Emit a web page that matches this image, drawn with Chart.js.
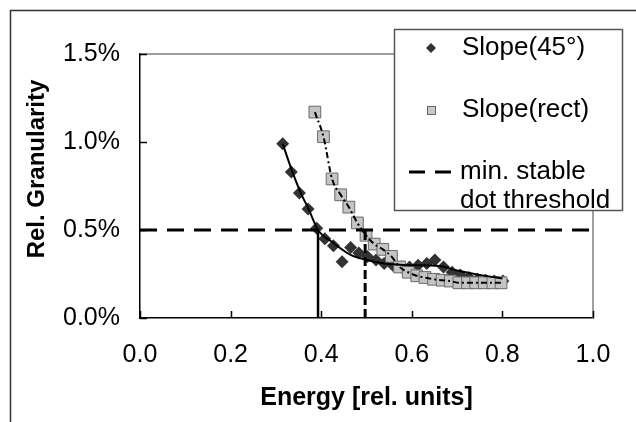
<!DOCTYPE html>
<html><head><meta charset="utf-8">
<script src="https://cdn.jsdelivr.net/npm/chart.js@4.4.1/dist/chart.umd.min.js"></script>
<style>html,body{margin:0;padding:0;background:#fff;}canvas{display:block;}</style>
</head><body>
<canvas id="c" width="636" height="422"></canvas>
<script>
// ---- data ----
const diamondX = [0.315,0.334,0.352,0.371,0.390,0.408,0.427,0.446,0.465,0.483,0.502,0.521,0.539,0.558,0.577,0.595,0.614,0.633,0.651,0.670,0.689,0.707,0.726,0.745,0.763,0.782,0.801];
const diamondY = [0.99,0.83,0.71,0.62,0.51,0.45,0.41,0.32,0.40,0.37,0.35,0.33,0.31,0.30,0.29,0.29,0.30,0.31,0.33,0.29,0.26,0.245,0.23,0.22,0.215,0.21,0.21];
const rectX = [0.386,0.405,0.424,0.443,0.461,0.480,0.499,0.517,0.536,0.555,0.573,0.592,0.611,0.629,0.648,0.667,0.685,0.704,0.723,0.741,0.760,0.779,0.797];
const rectY = [1.17,1.03,0.79,0.70,0.63,0.54,0.47,0.42,0.39,0.35,0.29,0.26,0.24,0.23,0.22,0.215,0.21,0.20,0.20,0.20,0.20,0.20,0.20];
const trendX = [0.315,0.335,0.355,0.372,0.393,0.425,0.464,0.500,0.540,0.600,0.660,0.700,0.750,0.800];
const trendY = [0.99,0.84,0.71,0.62,0.50,0.43,0.36,0.33,0.31,0.30,0.295,0.27,0.245,0.225];
const thresholdX = [0.0, 1.0];
const thresholdY = [0.5, 0.5];
const cutSolidX = [0.393, 0.393];
const cutDashX = [0.497, 0.497];
const cutY = [0.0, 0.5];
const xTickValues = [0.0,0.2,0.4,0.6,0.8,1.0];
const yTickValues = [0.0,0.5,1.0,1.5];
const labels = {
  series1: 'Slope(45°)', series2: 'Slope(rect)',
  threshold: ['min. stable', 'dot threshold'],
  xTitle: 'Energy [rel. units]', yTitle: 'Rel. Granularity'
};

const pts = (xs, ys) => xs.map((x, i) => ({x, y: ys[i]}));
const FONT = 'Liberation Sans, Arial, sans-serif';

const framePlugin = {
  id: 'frame',
  beforeDraw(chart) {
    const c = chart.ctx;
    c.save();
    c.fillStyle = '#fff';
    c.fillRect(0, 0, chart.width, chart.height);
    c.strokeStyle = '#333';
    c.lineWidth = 1.5;
    c.strokeRect(10.5, 10.5, chart.width + 20, chart.height + 20);
    c.restore();
  },
  beforeDatasetsDraw(chart) {
    const a = chart.chartArea, c = chart.ctx;
    c.save();
    c.strokeStyle = '#808080';
    c.lineWidth = 1.5;
    c.beginPath();
    c.moveTo(a.left, a.top); c.lineTo(a.right, a.top); c.lineTo(a.right, a.bottom);
    c.stroke();
    // inside tick marks
    c.strokeStyle = '#000';
    c.lineWidth = 1.5;
    const xs = chart.scales.x, ys = chart.scales.y;
    c.beginPath();
    xs.ticks.forEach(t => { const p = Math.round(xs.getPixelForValue(t.value)) + 0.5; c.moveTo(p, a.bottom); c.lineTo(p, a.bottom - 7); });
    ys.ticks.forEach(t => { const p = Math.round(ys.getPixelForValue(t.value)) + 0.5; c.moveTo(a.left, p); c.lineTo(a.left + 7, p); });
    c.stroke();
    c.restore();
  },
  afterDraw(chart) {
    const c = chart.ctx;
    c.save();
    // y title
    c.translate(37, 169);
    c.rotate(-Math.PI / 2);
    c.font = 'bold 24px ' + FONT;
    c.fillStyle = '#000';
    c.textAlign = 'center';
    c.textBaseline = 'middle';
    c.fillText(labels.yTitle, 0, 0);
    c.restore();
    // legend
    c.save();
    c.fillStyle = '#fff';
    c.fillRect(394, 29, 228, 181);
    c.strokeStyle = '#555';
    c.lineWidth = 1.5;
    c.strokeRect(394.5, 29.5, 228, 181);
    const mx = 431;
    c.fillStyle = '#333';
    c.beginPath();
    c.moveTo(mx, 48 - 5); c.lineTo(mx + 5, 48); c.lineTo(mx, 48 + 5); c.lineTo(mx - 5, 48); c.closePath();
    c.fill();
    c.fillStyle = '#c8c8c8';
    c.strokeStyle = '#666';
    c.lineWidth = 1;
    c.fillRect(mx - 4, 106, 8, 8);
    c.strokeRect(mx - 4 + 0.5, 106.5, 8, 8);
    c.strokeStyle = '#000';
    c.lineWidth = 3;
    c.setLineDash([16, 10]);
    c.beginPath(); c.moveTo(409, 172); c.lineTo(452, 172); c.stroke();
    c.setLineDash([]);
    c.fillStyle = '#000';
    c.font = '26px ' + FONT;
    c.textAlign = 'left';
    c.textBaseline = 'middle';
    c.fillText(labels.series1, 462, 48);
    c.fillText(labels.series2, 462, 110);
    c.fillText(labels.threshold[0], 460, 172);
    c.fillText(labels.threshold[1], 460, 201);
    c.restore();
  }
};

new Chart(document.getElementById('c'), {
  type: 'scatter',
  data: {
    datasets: [
      { label: labels.series1, data: pts(diamondX, diamondY), pointStyle: 'rectRot', pointRadius: 6.5,
        backgroundColor: '#333', borderColor: '#333', borderWidth: 0, showLine: false, order: 5 },
      { label: labels.series2, data: pts(rectX, rectY), pointStyle: 'rect', pointRadius: 8.3,
        backgroundColor: '#c4c4c4', borderColor: '#6a6a6a', borderWidth: 1, showLine: false, order: 4 },
      { label: 'trend45', data: pts(trendX, trendY), showLine: true, pointRadius: 0, borderColor: '#000',
        borderWidth: 2, cubicInterpolationMode: 'monotone', order: 1 },
      { label: 'trendRect', data: pts(rectX, rectY), showLine: true, pointRadius: 0, borderColor: '#000',
        borderWidth: 2, borderDash: [6, 3, 2, 3], cubicInterpolationMode: 'monotone', order: 1 },
      { label: labels.threshold.join(' '), data: pts(thresholdX, thresholdY), showLine: true, pointRadius: 0,
        borderColor: '#000', borderWidth: 3, borderDash: [17, 10], order: 2 },
      { label: 'cutSolid', data: pts(cutSolidX, cutY), showLine: true, pointRadius: 0,
        borderColor: '#000', borderWidth: 2.5, order: 2 },
      { label: 'cutDash', data: pts(cutDashX, cutY), showLine: true, pointRadius: 0,
        borderColor: '#000', borderWidth: 3, borderDash: [9, 4], order: 2 }
    ]
  },
  options: {
    responsive: false,
    animation: false,
    devicePixelRatio: 1,
    layout: { padding: { left: 0, top: 54, right: 43, bottom: 0 } },
    plugins: { legend: { display: false }, tooltip: { enabled: false } },
    scales: {
      x: {
        type: 'linear', min: 0, max: 1,
        afterFit: s => { s.height = 104; },
        afterBuildTicks: s => { s.ticks = xTickValues.map(v => ({value: v})); },
        grid: { display: true, drawOnChartArea: false, drawTicks: false },
        border: { display: true, color: '#000', width: 1.5 },
        ticks: { color: '#000', font: { family: FONT, size: 25 }, padding: 22,
                 callback: v => v.toFixed(1) },
        title: { display: true, text: labels.xTitle, color: '#000',
                 font: { family: FONT, size: 25, weight: 'bold' }, padding: { top: 0, bottom: 9 } }
      },
      y: {
        type: 'linear', min: 0, max: 1.5,
        afterFit: s => { s.width = 140; },
        afterBuildTicks: s => { s.ticks = yTickValues.map(v => ({value: v})); },
        grid: { display: true, drawOnChartArea: false, drawTicks: false },
        border: { display: true, color: '#000', width: 1.5 },
        ticks: { color: '#000', font: { family: FONT, size: 25 }, padding: 20,
                 callback: v => v.toFixed(1) + '%' }
      }
    }
  },
  plugins: [framePlugin]
});
</script>
</body></html>
